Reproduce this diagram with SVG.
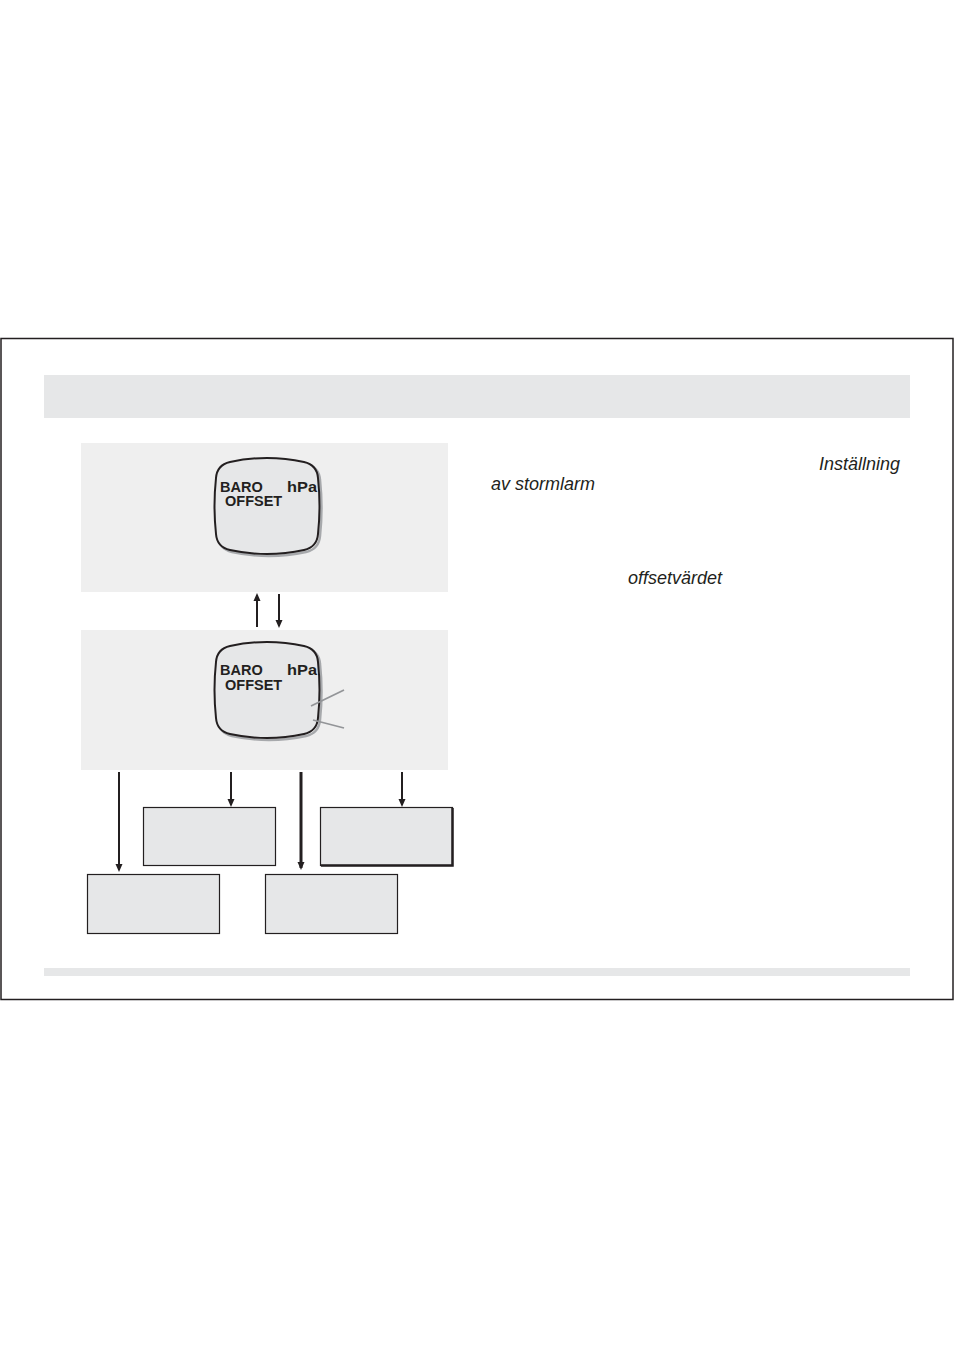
<svg xmlns="http://www.w3.org/2000/svg" width="954" height="1351" viewBox="0 0 954 1351">
<defs>
<style>
.frame{fill:none;stroke:#231f20;stroke-width:1.5}
.bar{fill:#e6e7e8}
.panel{fill:#efefef}
.box{fill:#e6e7e8;stroke:#231f20;stroke-width:1.2}
.conn{stroke:#231f20;stroke-width:2;fill:none}
.lcd{fill:#e6e7e8;stroke:#231f20;stroke-width:2}
.shadow{fill:none;stroke:#a7a9ac;stroke-width:2.5}
.lcdtxt{font-family:"Liberation Sans",Arial,sans-serif;font-weight:bold;font-size:14.5px;fill:#231f20}
.note{font-family:"Liberation Sans",Arial,sans-serif;font-style:italic;font-size:18px;fill:#231f20}
.ptr{stroke:#939598;stroke-width:1.8;fill:none}
</style>
<marker id="ah" viewBox="0 0 8 8" refX="6" refY="4" markerWidth="8" markerHeight="8" orient="auto" markerUnits="userSpaceOnUse">
<path d="M0,0.5 L8,4 L0,7.5 Z" fill="#231f20"/>
</marker>
<path id="lcdshape" d="M230 462 Q267 454 304 462 Q317 465 318 478 Q321 506 318 534 Q317 547 304 550 Q267 558 230 550 Q217 547 216 534 Q213 506 216 478 Q217 465 230 462 Z"/>
</defs>
<rect width="954" height="1351" fill="#ffffff"/>
<rect class="frame" x="1" y="338.5" width="952" height="661"/>
<rect class="bar" x="44" y="375" width="866" height="43"/>
<rect class="bar" x="44" y="968" width="866" height="8"/>

<g id="panel1">
<rect class="panel" x="81" y="443" width="367" height="149"/>
<use href="#lcdshape" class="shadow" transform="translate(2,2)"/>
<use href="#lcdshape" class="lcd"/>
<text class="lcdtxt" x="220" y="492">BARO</text>
<text class="lcdtxt" x="287" y="492" textLength="30" lengthAdjust="spacingAndGlyphs">hPa</text>
<text class="lcdtxt" x="225" y="506">OFFSET</text>
</g>

<g id="panel2">
<rect class="panel" x="81" y="630" width="367" height="140"/>
<use href="#lcdshape" class="shadow" transform="translate(2,186)"/>
<use href="#lcdshape" class="lcd" transform="translate(0,184)"/>
<text class="lcdtxt" x="220" y="675">BARO</text>
<text class="lcdtxt" x="287" y="675" textLength="30" lengthAdjust="spacingAndGlyphs">hPa</text>
<text class="lcdtxt" x="225" y="690">OFFSET</text>
<line class="ptr" x1="311" y1="706" x2="344" y2="690"/>
<line class="ptr" x1="313" y1="720" x2="344" y2="728"/>
</g>

<g id="boxA"><rect class="box" x="143.5" y="807.5" width="132" height="58"/></g>
<g id="boxB"><rect class="box" x="320.5" y="807.5" width="132" height="58"/><path d="M452.5 808 V865.5 H321" stroke="#231f20" stroke-width="2.5" fill="none"/></g>
<g id="boxC"><rect class="box" x="87.5" y="874.5" width="132" height="59"/></g>
<g id="boxD"><rect class="box" x="265.5" y="874.5" width="132" height="59"/></g>

<g id="connectors">
<line class="conn" x1="257" y1="627" x2="257" y2="595" marker-end="url(#ah)"/>
<line class="conn" x1="279" y1="594" x2="279" y2="626" marker-end="url(#ah)"/>
<line class="conn" x1="119" y1="772" x2="119" y2="870" marker-end="url(#ah)"/>
<line class="conn" x1="231" y1="772" x2="231" y2="805" marker-end="url(#ah)"/>
<line class="conn" x1="301" y1="772" x2="301" y2="868" style="stroke-width:3" marker-end="url(#ah)"/>
<line class="conn" x1="402" y1="772" x2="402" y2="805" marker-end="url(#ah)"/>
</g>

<g id="notes">
<text class="note" x="900" y="470" text-anchor="end">Inställning</text>
<text class="note" x="491" y="490">av stormlarm</text>
<text class="note" x="628" y="584">offsetvärdet</text>
</g>
</svg>
